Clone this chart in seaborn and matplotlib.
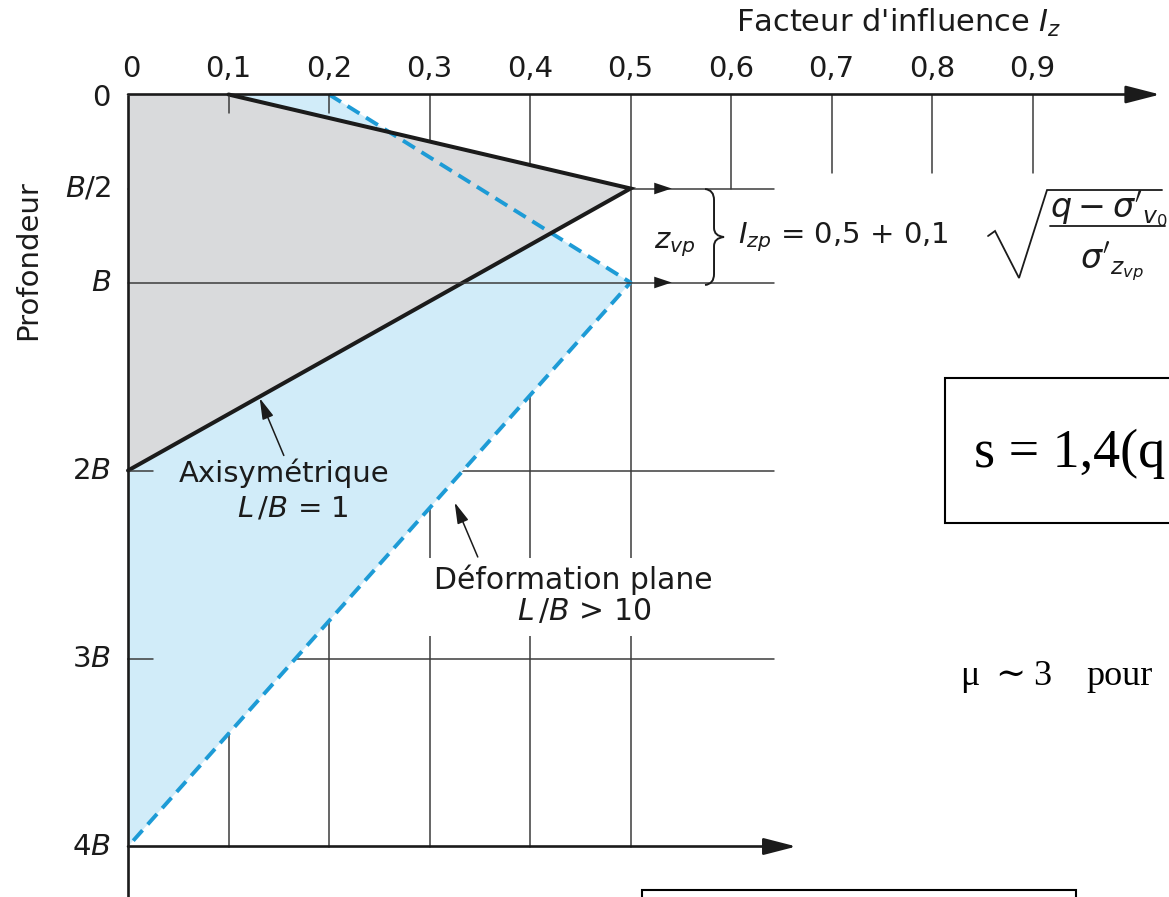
import numpy as np
import matplotlib
matplotlib.use("Agg")
import matplotlib.pyplot as plt
from matplotlib.patches import Rectangle, PathPatch
from matplotlib.path import Path
import seaborn as sns

# Schmertmann influence factor profiles: Iz versus depth (in multiples of B)
iz_axi = [0.1, 0.5, 0.0]          # axisymmetric, L/B = 1
depth_axi = [0.0, 0.5, 2.0]
iz_plane = [0.2, 0.5, 0.0]        # plane strain, L/B > 10
depth_plane = [0.0, 1.0, 4.0]

x_ticks = [0.0, 0.1, 0.2, 0.3, 0.4, 0.5, 0.6, 0.7, 0.8, 0.9]
x_tick_labels = ["0", "0,1", "0,2", "0,3", "0,4", "0,5", "0,6", "0,7", "0,8", "0,9"]
y_ticks = [0.0, 0.5, 1.0, 2.0, 3.0, 4.0]
y_tick_labels = ["0", "$B/2$", "$B$", "$2B$", "$3B$", "$4B$"]

sns.set_style("white")
plt.rcParams["font.family"] = ["DejaVu Sans"]
plt.rcParams["mathtext.fontset"] = "dejavusans"

INK = "#1b1b1b"
GRID = "#3c3c3c"
GREY_FILL = "#d9dadc"
BLUE_FILL = "#d1ecf9"
BLUE_LINE = "#1d9bd6"
FS = 21
SERIF = ["Liberation Serif", "DejaVu Serif"]

XLIM = (-0.1274, 1.0358)
YLIM = (4.2686, -0.5027)


def to_data(xp, yp):
    """Figure pixel position -> (Iz, depth/B) coordinates of the diagram."""
    return ((xp - 128) / 1005.0, (yp - 94.5) / 188.0)


fig = plt.figure(figsize=(11.69, 8.97), dpi=100)
ax = fig.add_axes([0, 0, 1, 1])

# ---- background grid (hidden by the filled areas) ----
grid_end = [4.0, 4.0, 4.0, 4.0, 4.0, 0.5, 0.418, 0.418, 0.418]
for xv, d_end in zip(x_ticks[1:], grid_end):
    ax.plot([xv, xv], [0, d_end], color=GRID, lw=1.1, zorder=1)
for dv in [0.5, 2.0, 3.0]:
    ax.plot([0, 0.643], [dv, dv], color=GRID, lw=1.1, zorder=1)

# white strip behind the plane-strain label
ax.add_patch(Rectangle((0.296, 2.465), 0.295, 0.415, facecolor="white",
                       edgecolor="none", zorder=1.5))

# ---- filled influence areas ----
ax.fill(np.r_[0.0, iz_plane], np.r_[0.0, depth_plane], color=BLUE_FILL, lw=0, zorder=2)
ax.fill(np.r_[0.0, iz_axi], np.r_[0.0, depth_axi], color=GREY_FILL, lw=0, zorder=3)

# ---- profile lines ----
sns.lineplot(x=iz_axi, y=depth_axi, sort=False, estimator=None, color=INK,
             lw=2.9, ax=ax, zorder=5, solid_joinstyle="miter")
sns.lineplot(x=iz_plane, y=depth_plane, sort=False, estimator=None, color=BLUE_LINE,
             lw=2.8, ax=ax, zorder=4, linestyle=(0, (3.6, 2.0)))
ax.set_xlim(*XLIM)
ax.set_ylim(*YLIM)
ax.axis("off")

# depth B reference line and short ticks (drawn over the fills)
ax.plot([0, 0.643], [1.0, 1.0], color=GRID, lw=1.1, zorder=6)
for xv in [0.1, 0.2]:
    ax.plot([xv, xv], [0, 0.098], color=GRID, lw=1.1, zorder=6)
for dv in [2.0, 3.0]:
    ax.plot([0, 0.025], [dv, dv], color=GRID, lw=1.1, zorder=6)

# ---- axes with arrows ----
arrow_style = "-|>,head_length=1.05,head_width=0.27"
ax.annotate("", xy=(1.027, 0), xytext=(0, 0),
            arrowprops=dict(arrowstyle=arrow_style, color=INK, lw=1.9,
                            mutation_scale=20, shrinkA=0, shrinkB=0), zorder=8)
ax.annotate("", xy=(0.665, 4.0), xytext=(0, 4.0),
            arrowprops=dict(arrowstyle=arrow_style, color=INK, lw=1.9,
                            mutation_scale=19, shrinkA=0, shrinkB=0), zorder=8)
ax.plot([0, 0], [0, 4.4], color=INK, lw=1.9, zorder=8, solid_capstyle="butt")

# tick labels
for xv, lab in zip(x_ticks, x_tick_labels):
    ax.text(xv + (0.003 if xv == 0 else 0), -0.135, lab, ha="center", va="center",
            fontsize=FS, color=INK)
for dv, lab in zip(y_ticks, y_tick_labels):
    ax.text(-0.017, dv + (0.02 if dv == 0 else 0), lab, ha="right", va="center",
            fontsize=FS, color=INK)

ax.text(0.767, -0.38, "Facteur d'influence $I_z$", ha="center", va="center",
        fontsize=22, color=INK)
ax.text(-0.0995, 0.88, "Profondeur", ha="center", va="center", rotation=90,
        fontsize=FS, color=INK)

# ---- z_vp marker arrows, brace and peak formula ----
for dv in [0.5, 1.0]:
    ax.annotate("", xy=(0.541, dv), xytext=(0.52, dv),
                arrowprops=dict(arrowstyle="-|>,head_length=0.9,head_width=0.3",
                                color=INK, lw=0, mutation_scale=14,
                                shrinkA=0, shrinkB=0), zorder=7)

brace_px = [(705, 189), (714, 190), (714, 200), (714, 215),
            (714, 228), (714, 236), (724, 237),
            (714, 238), (714, 246), (714, 259),
            (714, 274), (714, 284), (705, 285)]
brace_codes = [Path.MOVETO, Path.CURVE3, Path.CURVE3, Path.LINETO,
               Path.LINETO, Path.CURVE3, Path.CURVE3,
               Path.CURVE3, Path.CURVE3, Path.LINETO,
               Path.LINETO, Path.CURVE3, Path.CURVE3]
brace = Path([to_data(*p) for p in brace_px], brace_codes)
ax.add_patch(PathPatch(brace, facecolor="none", edgecolor=INK, lw=1.4, zorder=7))

ax.text(0.544, 0.80, "$z_{vp}$", ha="center", va="center", fontsize=FS, color=INK)
ax.text(0.607, 0.76, "$I_{zp}$ = 0,5 + 0,1", ha="left", va="center",
        fontsize=FS, color=INK)

# square root of the stress ratio
radical = [to_data(*p) for p in [(988, 236), (995, 231), (1019, 278),
                                 (1047, 190), (1162, 190)]]
ax.plot(*zip(*radical), color=INK, lw=1.3, zorder=7,
        solid_joinstyle="miter")
ax.plot(*zip(*[to_data(1050, 226), to_data(1165, 226)]), color=INK, lw=1.3, zorder=7)
xn, yn = to_data(1050, 210)
ax.text(xn, yn, r"$q - \sigma'_{v_0}$", ha="left", va="center", fontsize=24,
        color=INK, zorder=7)
xd, yd = to_data(1112, 262)
ax.text(xd, yd, r"$\sigma'_{z_{vp}}$", ha="center", va="center", fontsize=24,
        color=INK, zorder=7)

# ---- curve labels ----
ax.text(0.155, 2.013, "Axisymétrique", ha="center", va="center", fontsize=FS, color=INK)
ax.text(0.164, 2.20, r"$L\,/B$ = 1", ha="center", va="center", fontsize=FS, color=INK)
ax.annotate("", xy=(0.131, 1.615), xytext=(0.155, 1.92),
            arrowprops=dict(arrowstyle="-|>,head_length=0.8,head_width=0.22",
                            color=INK, lw=1.1, mutation_scale=16,
                            shrinkA=0, shrinkB=0), zorder=7)

ax.text(0.443, 2.58, "Déformation plane", ha="center", va="center", fontsize=21.5,
        color=INK, zorder=7)
ax.text(0.454, 2.75, r"$L\,/B$ > 10", ha="center", va="center", fontsize=21.5,
        color=INK, zorder=7)
ax.annotate("", xy=(0.325, 2.17), xytext=(0.348, 2.46),
            arrowprops=dict(arrowstyle="-|>,head_length=0.8,head_width=0.22",
                            color=INK, lw=1.1, mutation_scale=16,
                            shrinkA=0, shrinkB=0), zorder=7)

# ---- settlement formula panel ----
ax.add_patch(Rectangle((0.813, 1.508), 0.4, 0.771, facecolor="white",
                       edgecolor="black", lw=1.5, zorder=7))
ax.text(0.842, 1.981, "s = 1,4(q", ha="left", va="baseline", fontsize=39,
        family=SERIF, color="black", zorder=8)

# coefficient note, laid out word by word
mu_y = to_data(0, 685)[1]
for xp, word in [(960, "μ"), (995, "∼"), (1033, "3"), (1086, "pour")]:
    ax.text(to_data(xp, 0)[0], mu_y, word, ha="left", va="baseline", fontsize=26,
            family=SERIF, color="black", zorder=8)

ax.add_patch(Rectangle((0.511, 4.231), 0.432, 0.5, facecolor="white",
                       edgecolor="black", lw=1.5, zorder=7))

fig.savefig("out.png", dpi=100)
